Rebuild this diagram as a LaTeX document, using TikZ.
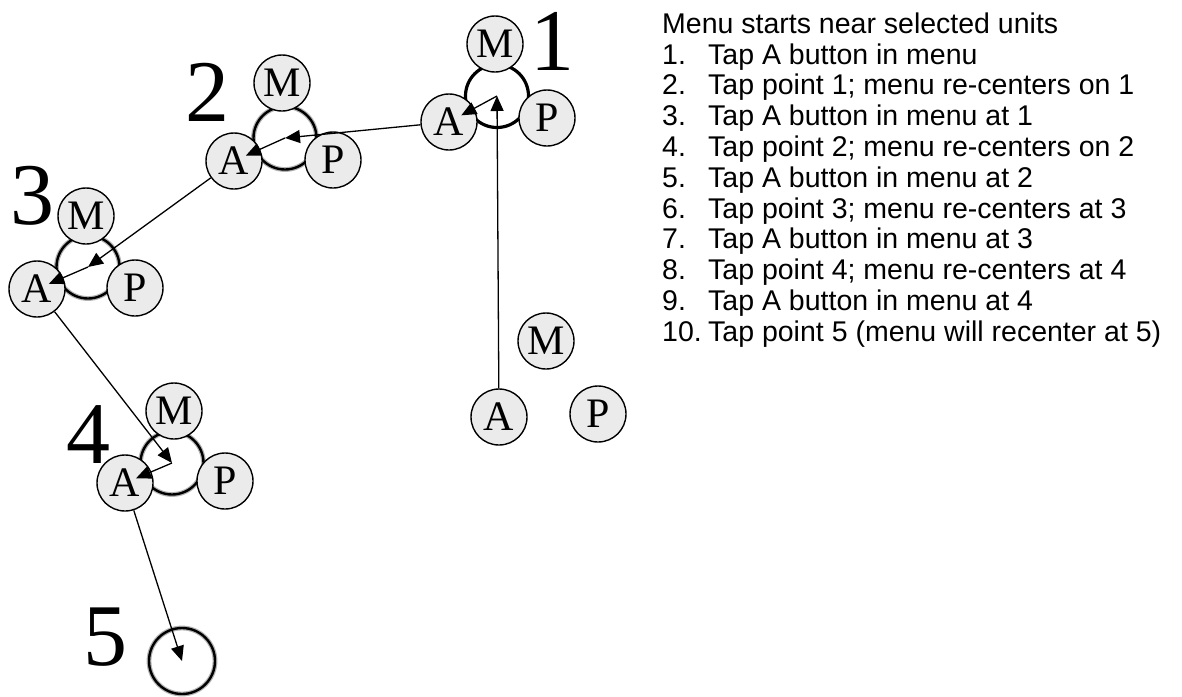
\documentclass[tikz,border=0pt]{standalone}
\usepackage{fontspec}
\setmainfont{Liberation Serif}
\newfontfamily\listfont{Liberation Sans}
\usetikzlibrary{arrows.meta}
\tikzset{
  btn/.style={circle, draw=black, line width=1.4pt, fill=black!8, minimum size=56pt, inner sep=0pt, font=\fontsize{42}{42}\selectfont},
  ringb/.style={circle, draw=black, line width=2.4pt, minimum size=63pt, inner sep=0pt, preaction={draw=black!30, line width=4.8pt}},
  rings/.style={circle, draw=black, line width=3.2pt, minimum size=63pt, inner sep=0pt},
  arr/.style={line width=1.3pt, -{Triangle[length=15pt,width=13pt]}},
  big/.style={inner sep=0pt, font=\fontsize{88}{88}\selectfont},
  item/.style={anchor=base west, inner sep=0pt, font=\listfont\fontsize{28.5}{28.5}\selectfont}
}
\begin{document}
\begin{tikzpicture}[x=1pt,y=-1pt]
\useasboundingbox (0,0) rectangle (1182,696);
% rings
\node[rings] (r1) at (497,96) {};
\node[ringb] (r2) at (285,138) {};
\node[ringb] (r3) at (88,267) {};
\node[ringb] (r4) at (172,463) {};
\node[ringb, minimum size=66pt] (r5) at (182,661) {};
% buttons
\node[btn] (m1) at (495,44) {M};
\node[btn] (a1) at (449,122) {A};
\node[btn] (p1) at (547,118) {P};
\node[btn] (m2) at (282,83) {M};
\node[btn] (a2) at (234,161) {A};
\node[btn] (p2) at (333,160) {P};
\node[btn] (m3) at (86,216) {M};
\node[btn] (a3) at (37,289) {A};
\node[btn] (p3) at (135,288) {P};
\node[btn] (m4) at (174,411) {M};
\node[btn] (a4) at (125,483) {A};
\node[btn] (p4) at (225,481) {P};
\node[btn] (m0) at (546,341) {M};
\node[btn] (a0) at (499,417) {A};
\node[btn] (p0) at (598,414) {P};
% big labels
\node[big] (l1) at (552,41) {1};
\node[big] (l2) at (207,92) {2};
\node[big] (l3) at (32,196) {3};
\node[big] (l4) at (88,435) {4};
\node[big] (l5) at (105,637) {5};
% arrows
\draw[arr] (a0) -- (r1.center);
\draw[arr, shorten >=14pt] (r1.center) -- (a1.center);
\draw[arr] (a1) -- (r2.center);
\draw[arr, shorten >=13pt] (r2.center) -- (a2.center);
\draw[arr] (a2) -- (r3.center);
\draw[arr, shorten >=13pt] (r3.center) -- (a3.center);
\draw[arr] (a3) -- (r4.center);
\draw[arr, shorten >=12pt] (r4.center) -- (a4.center);
\draw[arr] (a4) -- (r5.center);
% list
\node[item] (t0) at (662,33.3) {Menu starts near selected units};
\foreach \n/\t [count=\i] in {1./Tap A button in menu,
  2./Tap point 1; menu re-centers on 1,
  3./Tap A button in menu at 1,
  4./Tap point 2; menu re-centers on 2,
  5./Tap A button in menu at 2,
  6./Tap point 3; menu re-centers at 3,
  7./Tap A button in menu at 3,
  8./Tap point 4; menu re-centers at 4,
  9./Tap A button in menu at 4,
  10./Tap point 5 (menu will recenter at 5)}{
  \node[item] (n\i) at (662,33.3+30.8*\i) {\n};
  \node[item] (t\i) at (708,33.3+30.8*\i) {\t};
}
\end{tikzpicture}
\end{document}
